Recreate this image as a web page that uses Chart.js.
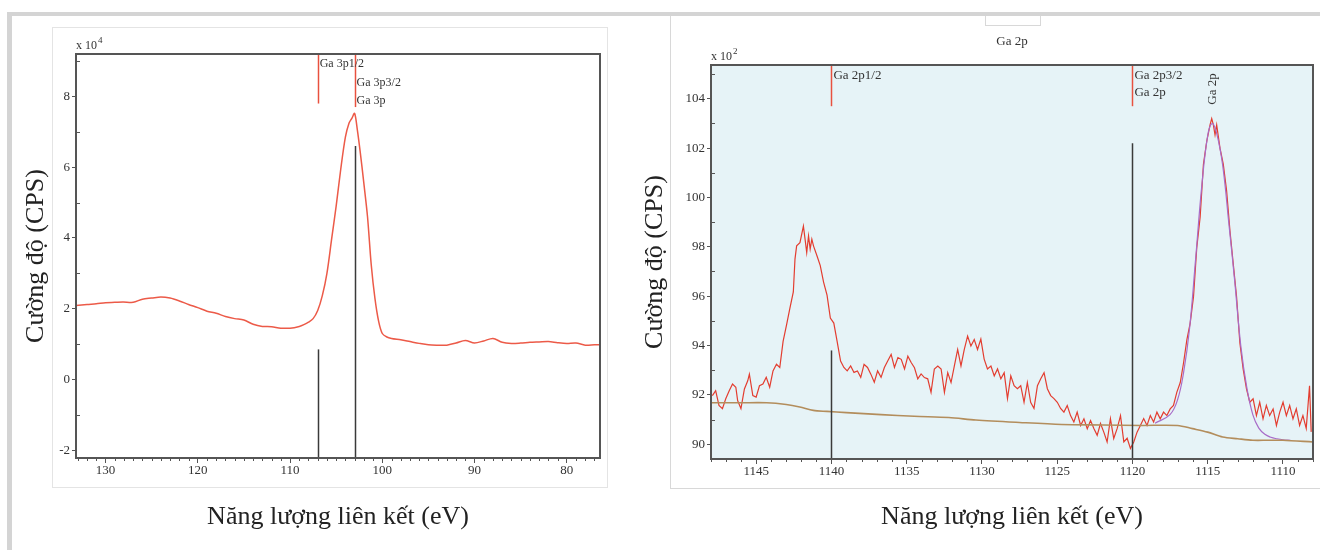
<!DOCTYPE html>
<html lang="vi">
<head>
<meta charset="utf-8">
<title>Phổ XPS Ga 3p và Ga 2p</title>
<script src="https://cdn.jsdelivr.net/npm/chart.js@4.4.1/dist/chart.umd.min.js"></script>
<style>
  html, body { margin: 0; padding: 0; background: #fff; }
  #page { position: relative; width: 1320px; height: 550px; overflow: hidden; background: #fff; }
  .band { position: absolute; background: #d4d4d4; }
  .box { position: absolute; box-sizing: border-box; }
  canvas { position: absolute; top: 0; }
</style>
</head>
<body>
<div id="page">
  <div class="band" style="left:7px;top:12px;width:1313px;height:4px"></div>
  <div class="band" style="left:7px;top:12px;width:5px;height:538px"></div>
  <div class="box" style="left:52px;top:27px;width:556px;height:461px;border:1px solid #e4e4e4"></div>
  <div class="box" style="left:670px;top:16px;width:650px;height:473px;border-left:1px solid #d8d8d8;border-bottom:1px solid #d8d8d8"></div>
  <div class="box" style="left:985px;top:16px;width:56px;height:10px;border:1px solid #d8d8d8;border-top:none"></div>
  <canvas id="ga3p" width="640" height="550" style="left:0"></canvas>
  <canvas id="ga2p" width="690" height="550" style="left:630px"></canvas>
</div>
<script>
// --- Ga 3p (counts in units of 10^4 CPS) ---
const ga3pEnergy = [133.2, 132, 131, 130, 129, 128.1, 127, 126, 125, 124, 123, 122, 121, 120, 119, 118,
  117, 116, 115, 114, 113, 112, 111, 110, 109, 108.5, 108, 107.5, 107, 106.5, 106, 105.5, 105, 104.5,
  104, 103.6, 103.3, 103, 102.7, 102.4, 102, 101.6, 101.2, 100.8, 100.4, 100, 99.5, 99, 98, 97, 96, 95,
  94, 93, 92, 91, 90, 89, 88, 87, 86, 85, 84, 83, 82, 81, 80, 79, 78, 77, 76.4];
const ga3pCounts = [2.09, 2.12, 2.14, 2.17, 2.18, 2.19, 2.18, 2.27, 2.3, 2.33, 2.3, 2.22, 2.12, 2.03, 1.93, 1.87,
  1.78, 1.72, 1.68, 1.56, 1.5, 1.49, 1.45, 1.45, 1.5, 1.55, 1.62, 1.72, 1.95, 2.37, 3.0, 3.95, 4.9, 5.95,
  6.85, 7.25, 7.38, 7.52, 7.05, 6.45, 5.55, 4.6, 3.25, 2.3, 1.65, 1.3, 1.2, 1.16, 1.12, 1.07, 1.02, 0.98,
  0.97, 0.97, 1.03, 1.1, 1.03, 1.09, 1.16, 1.05, 1.02, 1.03, 1.05, 1.06, 1.07, 1.04, 1.02, 1.03, 0.97, 0.98, 0.98];
const ga3pXTicks = [130, 120, 110, 100, 90, 80];
const ga3pYTicks = [-2, 0, 2, 4, 6, 8];
const ga3pPeaks = [107, 103];          // Ga 3p1/2, Ga 3p3/2
const ga3pRedEnd = [7.8, 7.7];
const ga3pBlackTop = [0.85, 6.6];

// --- Ga 2p (counts in units of 10^2 CPS) ---
const ga2pEnergy = [1147.91, 1147.69, 1147.47, 1147.24, 1147.02, 1146.79, 1146.57, 1146.35, 1146.23, 1146.01,
  1145.78, 1145.56, 1145.45, 1145.22, 1145.0, 1144.78, 1144.55, 1144.33, 1144.1, 1143.88, 1143.65, 1143.43,
  1143.21, 1142.98, 1142.76, 1142.53, 1142.42, 1142.31, 1142.09, 1141.86, 1141.75, 1141.64, 1141.52, 1141.41,
  1141.3, 1141.19, 1140.96, 1140.74, 1140.52, 1140.29, 1140.07, 1139.84, 1139.62, 1139.39, 1139.17, 1138.95,
  1138.72, 1138.5, 1138.27, 1138.05, 1137.83, 1137.6, 1137.38, 1137.15, 1136.93, 1136.7, 1136.48, 1136.26,
  1136.03, 1135.81, 1135.58, 1135.36, 1135.14, 1134.92, 1134.7, 1134.48, 1134.26, 1134.04, 1133.82, 1133.6,
  1133.38, 1133.16, 1132.93, 1132.71, 1132.49, 1132.27, 1132.05, 1131.83, 1131.61, 1131.39, 1131.17, 1130.95,
  1130.73, 1130.51, 1130.29, 1130.07, 1129.85, 1129.63, 1129.4, 1129.18, 1128.96, 1128.74, 1128.52, 1128.3,
  1128.08, 1127.86, 1127.64, 1127.42, 1127.2, 1126.98, 1126.76, 1126.54, 1126.31, 1126.09, 1125.87, 1125.65,
  1125.43, 1125.21, 1124.99, 1124.77, 1124.55, 1124.33, 1124.11, 1123.89, 1123.67, 1123.44, 1123.22, 1123.0,
  1122.78, 1122.56, 1122.34, 1122.12, 1121.9, 1121.68, 1121.46, 1121.24, 1121.01, 1120.79, 1120.57, 1120.35,
  1120.13, 1119.91, 1119.69, 1119.47, 1119.25, 1119.03, 1118.81, 1118.59, 1118.37, 1118.15, 1117.93, 1117.71,
  1117.49, 1117.27, 1117.05, 1116.82, 1116.6, 1116.38, 1116.16, 1115.94, 1115.72, 1115.5, 1115.28, 1115.06,
  1114.84, 1114.73, 1114.62, 1114.51, 1114.4, 1114.18, 1113.96, 1113.74, 1113.52, 1113.3, 1113.08, 1112.86,
  1112.64, 1112.42, 1112.2, 1111.98, 1111.76, 1111.54, 1111.32, 1111.1, 1110.88, 1110.65, 1110.43, 1110.21,
  1109.99, 1109.77, 1109.55, 1109.33, 1109.11, 1108.89, 1108.67, 1108.45, 1108.23, 1108.12];
const ga2pCounts = [91.97, 92.17, 91.57, 91.44, 91.84, 92.17, 92.44, 92.31, 91.77, 91.44,
  92.24, 92.57, 92.84, 91.97, 91.91, 92.37, 92.44, 92.71, 92.31, 92.97, 93.24, 93.11,
  94.17, 94.84, 95.51, 96.17, 97.5, 98.04, 98.17, 98.84, 98.31, 97.77, 98.44, 97.91,
  98.31, 98.04, 97.64, 97.24, 96.57, 96.04, 95.11, 94.91, 94.17, 93.37, 93.11, 92.97,
  93.17, 92.91, 92.97, 92.71, 93.24, 93.11, 92.84, 92.51, 92.97, 92.71, 93.11, 93.37,
  93.64, 93.11, 93.51, 93.44, 93.05, 93.57, 93.31, 93.1, 92.65, 92.85, 92.7, 92.65,
  92.1, 93.05, 93.17, 93.05, 92.1, 92.9, 92.5, 93.17, 93.84, 93.17, 93.84, 94.38,
  93.98, 94.24, 93.84, 94.26, 93.45, 93.05, 93.17, 92.77, 93.05, 92.65, 92.9, 91.85,
  92.77, 92.37, 92.25, 92.37, 91.7, 92.5, 91.7, 91.45, 92.37, 92.65, 92.9, 92.25,
  91.97, 91.85, 91.7, 91.45, 91.3, 91.57, 91.16, 90.9, 91.3, 90.76, 91.03, 90.63,
  90.96, 90.64, 90.36, 90.84, 90.49, 90.09, 91.03, 90.23, 90.64, 91.16, 90.09, 90.24,
  89.83, 90.09, 90.49, 90.76, 91.04, 90.76, 91.16, 90.9, 91.3, 91.03, 91.3, 91.16,
  91.43, 91.57, 92.1, 92.5, 93.3, 94.24, 94.91, 95.98, 97.99, 99.2, 101.34, 102.28,
  102.94, 103.2, 102.94, 102.54, 102.94, 102.0, 101.34, 100.27, 98.66, 97.32, 95.98, 94.11,
  93.04, 92.24, 91.7, 91.84, 91.16, 91.7, 91.03, 91.57, 91.16, 91.43, 90.76, 91.3,
  91.7, 91.16, 91.57, 91.03, 91.43, 90.76, 91.16, 90.64, 92.37, 90.5];
const ga2pBaseEnergy = [1148, 1146, 1144.3, 1143, 1142.1, 1141.2, 1140.3, 1139, 1136.7, 1134.5, 1132.2, 1130.4,
  1127.5, 1124.7, 1122, 1119.4, 1117, 1116, 1115, 1114, 1113, 1112, 1111, 1110, 1108];
const ga2pBaseCounts = [91.68, 91.68, 91.68, 91.61, 91.51, 91.37, 91.33, 91.28, 91.2, 91.13, 91.08, 90.98,
  90.88, 90.8, 90.78, 90.76, 90.76, 90.63, 90.49, 90.29, 90.22, 90.16, 90.16, 90.16, 90.09];
const ga2pFitEnergy = [1118.5, 1117.5, 1117, 1116.6, 1116.2, 1115.8, 1115.4, 1115, 1114.7, 1114.4, 1114,
  1113.6, 1113.2, 1112.8, 1112.4, 1112, 1111.6, 1111.2, 1110.8, 1110.4, 1110, 1109.5];
const ga2pFitCounts = [90.85, 91.2, 91.8, 92.9, 94.7, 97.5, 100.4, 102.5, 103.0, 102.6, 101.3,
  99.0, 96.6, 94.0, 92.3, 91.2, 90.65, 90.4, 90.28, 90.22, 90.18, 90.16];
const ga2pXTicks = [1145, 1140, 1135, 1130, 1125, 1120, 1115, 1110];
const ga2pYTicks = [90, 92, 94, 96, 98, 100, 102, 104];
const ga2pPeaks = [1140, 1120];        // Ga 2p1/2, Ga 2p3/2
const ga2pRedEnd = [103.7, 103.7];
const ga2pBlackTop = [93.8, 102.2];
const ga2pFitPeak = 1114.7;

const SERIF = '"Liberation Serif", "Times New Roman", serif';

function pairs(xs, ys) {
  return xs.map((x, i) => ({ x: x, y: ys[i] }));
}

// frame, minor ticks, peak markers and labels
const xpsDecor = {
  id: 'xpsDecor',
  beforeDraw(chart, args, o) {
    const { ctx, chartArea: a } = chart;
    if (o.plotBg) {
      ctx.save();
      ctx.fillStyle = o.plotBg;
      ctx.fillRect(a.left, a.top, a.right - a.left, a.bottom - a.top);
      ctx.restore();
    }
  },
  afterDraw(chart, args, o) {
    const { ctx, chartArea: a, scales: { x, y } } = chart;
    ctx.save();

    // peak markers: red from the top, black from the bottom
    o.peaks.forEach((e, i) => {
      const px = Math.round(x.getPixelForValue(e)) + 0.5;
      ctx.lineWidth = 1.5;
      ctx.strokeStyle = '#e8513f';
      ctx.beginPath();
      ctx.moveTo(px, a.top);
      ctx.lineTo(px, y.getPixelForValue(o.redEnd[i]));
      ctx.stroke();
      ctx.strokeStyle = '#3a3a3a';
      ctx.beginPath();
      ctx.moveTo(px, y.getPixelForValue(o.blackTop[i]));
      ctx.lineTo(px, a.bottom);
      ctx.stroke();
    });

    // marker labels
    ctx.fillStyle = '#333';
    ctx.textBaseline = 'alphabetic';
    ctx.textAlign = 'left';
    ctx.font = o.labelFont;
    o.labels.forEach(l => {
      ctx.fillText(l.text, x.getPixelForValue(l.energy) + 2, a.top + l.dy);
    });
    if (o.rotated) {
      ctx.save();
      ctx.translate(x.getPixelForValue(o.rotated.energy), a.top + o.rotated.dy);
      ctx.rotate(-Math.PI / 2);
      ctx.textAlign = 'center';
      ctx.textBaseline = 'middle';
      ctx.fillText(o.rotated.text, 0, 0);
      ctx.restore();
    }
    if (o.title) {
      ctx.textAlign = 'center';
      ctx.font = '13px ' + SERIF;
      ctx.fillText(o.title, (a.left + a.right) / 2, a.top - 20);
    }

    // multiplier in the top-left corner
    ctx.textAlign = 'left';
    ctx.font = '12px ' + SERIF;
    ctx.fillText('x 10', a.left, a.top - 5);
    const w = ctx.measureText('x 10').width;
    ctx.font = '9px ' + SERIF;
    ctx.fillText(o.exponent, a.left + w + 1, a.top - 11);

    // minor ticks
    ctx.strokeStyle = '#555';
    ctx.lineWidth = 1;
    ctx.beginPath();
    for (let v = Math.ceil(x.min); v <= x.max; v++) {
      if (v % o.xMajor === 0) continue;
      const px = Math.round(x.getPixelForValue(v)) + 0.5;
      ctx.moveTo(px, a.bottom);
      ctx.lineTo(px, a.bottom + 3);
    }
    for (let v = Math.ceil(y.min); v <= y.max; v++) {
      if (v % 2 === 0) continue;
      const py = Math.round(y.getPixelForValue(v)) + 0.5;
      ctx.moveTo(a.left, py);
      ctx.lineTo(a.left + 4, py);
    }
    ctx.stroke();

    // plot frame
    ctx.strokeStyle = '#555';
    ctx.lineWidth = 2;
    ctx.strokeRect(a.left, a.top, a.right - a.left, a.bottom - a.top);
    ctx.restore();
  }
};

function axes(o) {
  const tickFont = { family: SERIF, size: 13 };
  const titleFont = { family: SERIF, size: 26 };
  return {
    x: {
      type: 'linear', reverse: true, min: o.xMin, max: o.xMax,
      afterBuildTicks: s => { s.ticks = o.xTicks.map(v => ({ value: v })); },
      afterFit: s => { s.height = o.xHeight; },
      grid: { drawOnChartArea: false, tickLength: 5, color: '#555' },
      border: { display: false },
      ticks: { color: '#333', padding: 0, font: tickFont, maxRotation: 0, callback: v => String(v) },
      title: { display: true, text: 'Năng lượng liên kết (eV)', color: '#222', font: titleFont, padding: { top: 4, bottom: 4 } }
    },
    y: {
      type: 'linear', min: o.yMin, max: o.yMax,
      afterBuildTicks: s => { s.ticks = o.yTicks.map(v => ({ value: v })); },
      afterFit: s => { s.width = o.yWidth; },
      grid: { drawOnChartArea: false, tickLength: 4, color: '#555' },
      border: { display: false },
      ticks: { color: '#333', padding: 2, font: tickFont, callback: v => String(v) },
      title: { display: true, text: 'Cường độ (CPS)', color: '#222', font: titleFont, padding: { top: 4, bottom: 4 } }
    }
  };
}

new Chart(document.getElementById('ga3p'), {
  type: 'line',
  data: {
    datasets: [{
      data: pairs(ga3pEnergy, ga3pCounts),
      borderColor: '#ec5a48', borderWidth: 1.5, pointRadius: 0, tension: 0.3
    }]
  },
  options: {
    responsive: false, animation: false,
    layout: { padding: { left: 17, right: 40, top: 54, bottom: 13 } },
    scales: axes({ xMin: 76.4, xMax: 133.2, yMin: -2.22, yMax: 9.2,
      xTicks: ga3pXTicks, yTicks: ga3pYTicks, xHeight: 79, yWidth: 59 }),
    plugins: {
      legend: { display: false }, tooltip: { enabled: false },
      xpsDecor: {
        peaks: ga3pPeaks, redEnd: ga3pRedEnd, blackTop: ga3pBlackTop,
        exponent: '4', xMajor: 10, labelFont: '12px ' + SERIF,
        labels: [
          { text: 'Ga 3p1/2', energy: ga3pPeaks[0], dy: 13 },
          { text: 'Ga 3p3/2', energy: ga3pPeaks[1], dy: 32 },
          { text: 'Ga 3p', energy: ga3pPeaks[1], dy: 50 }
        ]
      }
    }
  },
  plugins: [xpsDecor]
});

new Chart(document.getElementById('ga2p'), {
  type: 'line',
  data: {
    datasets: [
      { data: pairs(ga2pBaseEnergy, ga2pBaseCounts), borderColor: '#b38d5c', borderWidth: 1.6, pointRadius: 0, tension: 0.3 },
      { data: pairs(ga2pFitEnergy, ga2pFitCounts), borderColor: '#a86cc8', borderWidth: 1.2, pointRadius: 0, tension: 0.4 },
      { data: pairs(ga2pEnergy, ga2pCounts), borderColor: '#e33d30', borderWidth: 1.2, pointRadius: 0, tension: 0 }
    ]
  },
  options: {
    responsive: false, animation: false,
    layout: { padding: { left: 6, right: 7, top: 65, bottom: 13 } },
    scales: axes({ xMin: 1108, xMax: 1148, yMin: 89.4, yMax: 105.37,
      xTicks: ga2pXTicks, yTicks: ga2pYTicks, xHeight: 78, yWidth: 75 }),
    plugins: {
      legend: { display: false }, tooltip: { enabled: false },
      xpsDecor: {
        plotBg: '#e6f3f7',
        peaks: ga2pPeaks, redEnd: ga2pRedEnd, blackTop: ga2pBlackTop,
        exponent: '2', xMajor: 5, labelFont: '13px ' + SERIF,
        title: 'Ga 2p',
        labels: [
          { text: 'Ga 2p1/2', energy: ga2pPeaks[0], dy: 14 },
          { text: 'Ga 2p3/2', energy: ga2pPeaks[1], dy: 14 },
          { text: 'Ga 2p', energy: ga2pPeaks[1], dy: 31 }
        ],
        rotated: { text: 'Ga 2p', energy: ga2pFitPeak, dy: 24 }
      }
    }
  },
  plugins: [xpsDecor]
});
</script>
</body>
</html>
